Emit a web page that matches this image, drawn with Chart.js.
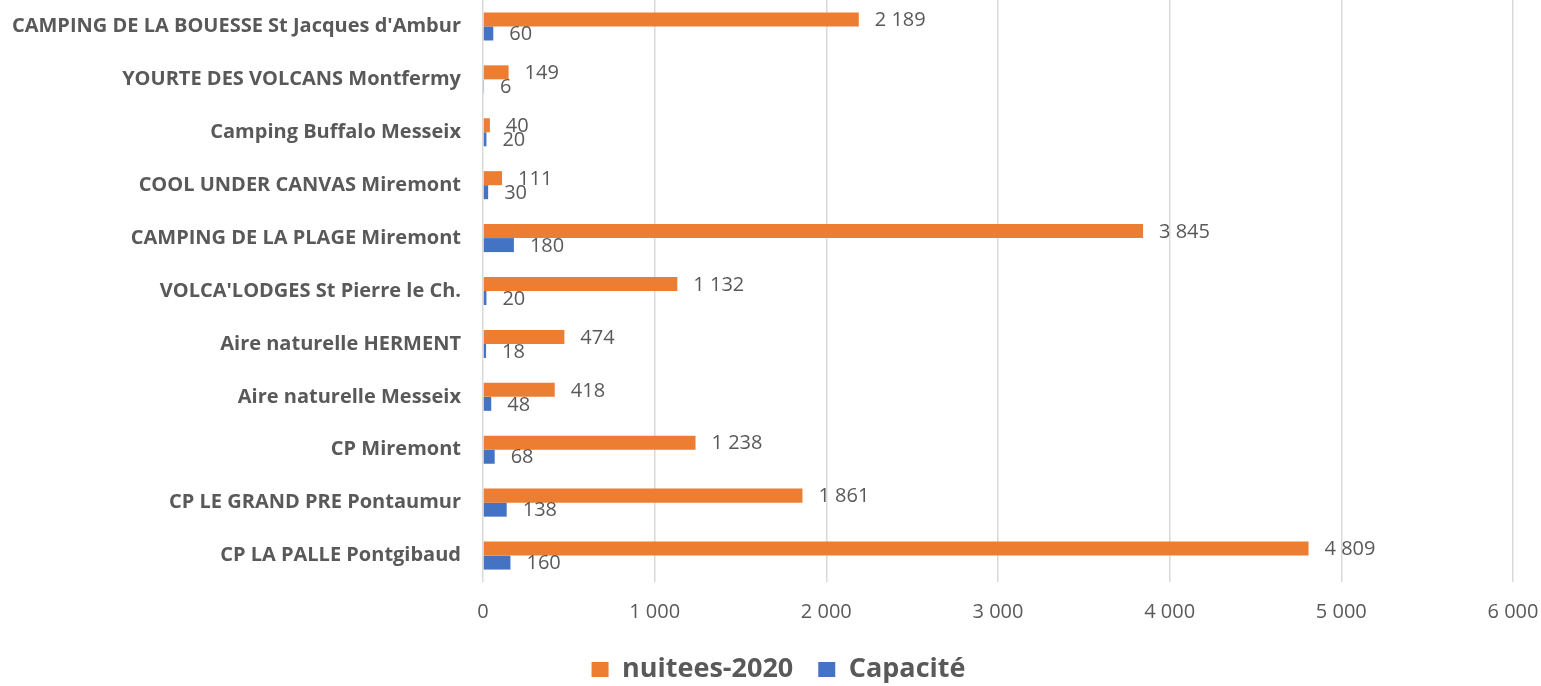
<!DOCTYPE html>
<html>
<head>
<meta charset="utf-8">
<script src="https://cdn.jsdelivr.net/npm/chart.js@4.4.1/dist/chart.umd.min.js"></script>
<style>
    html, body { margin: 0; padding: 0; background: #fff; overflow: hidden; }
    #wrap { width: 1541px; height: 686px; position: relative; }
    canvas { display: block; }
</style>
</head>
<body>
<div id="wrap"><canvas id="campingChart"></canvas></div>
<script>
// Catégories (de haut en bas)
const campings = [
    "CAMPING DE LA BOUESSE St Jacques d'Ambur",
    'YOURTE DES VOLCANS Montfermy',
    'Camping Buffalo Messeix',
    'COOL UNDER CANVAS Miremont',
    'CAMPING DE LA PLAGE Miremont',
    "VOLCA'LODGES St Pierre le Ch.",
    'Aire naturelle HERMENT',
    'Aire naturelle Messeix',
    'CP Miremont',
    'CP LE GRAND PRE Pontaumur',
    'CP LA PALLE Pontgibaud'
];
const nuitees2020 = [2189, 149, 40, 111, 3845, 1132, 474, 418, 1238, 1861, 4809];
const capacite = [60, 6, 20, 30, 180, 20, 18, 48, 68, 138, 160];
const xTicks = [0, 1000, 2000, 3000, 4000, 5000, 6000];

const orange = '#ED7D31';
const blue = '#4472C4';
const textColor = '#595959';
const gridColor = '#d9d9d9';
const fontFamily = "'Open Sans', 'Liberation Sans', sans-serif";

// séparateur de milliers façon Excel FR
function fmt(v) {
    return String(v).replace(/\B(?=(\d{3})+(?!\d))/g, ' ');
}

// étiquettes de valeur en bout de barre
const valueLabels = {
    id: 'valueLabels',
    afterDatasetsDraw(chart) {
        const ctx = chart.ctx;
        ctx.save();
        ctx.font = '20px ' + fontFamily;
        ctx.fillStyle = textColor;
        ctx.textAlign = 'left';
        ctx.textBaseline = 'middle';
        chart.data.datasets.forEach((ds, i) => {
            const meta = chart.getDatasetMeta(i);
            meta.data.forEach((bar, j) => {
                ctx.fillText(fmt(ds.data[j]), bar.x + 16, bar.y + 1);
            });
        });
        ctx.restore();
    }
};

// décale la légende un peu vers la droite (comme dans Excel)
const legendShift = {
    id: 'legendShift',
    afterLayout(chart) {
        if (!chart.legend) return;
        chart.legend.left += 22;
        chart.legend.right += 22;
    }
};

const ctx = document.getElementById('campingChart').getContext('2d');
new Chart(ctx, {
    type: 'bar',
    data: {
        labels: campings,
        datasets: [
            {
                label: 'nuitees-2020',
                data: nuitees2020,
                backgroundColor: orange,
                barPercentage: 1,
                categoryPercentage: 0.53
            },
            {
                label: 'Capacité',
                data: capacite,
                backgroundColor: blue,
                barPercentage: 1,
                categoryPercentage: 0.53
            }
        ]
    },
    options: {
        indexAxis: 'y',
        responsive: true,
        maintainAspectRatio: false,
        animation: false,
        layout: { padding: { left: 0, right: 28, top: 0, bottom: -7 } },
        plugins: {
            legend: {
                display: true,
                position: 'bottom',
                labels: {
                    color: textColor,
                    font: { family: fontFamily, size: 27, weight: 'bold' },
                    boxWidth: 17,
                    boxHeight: 15,
                    padding: 25
                }
            },
            tooltip: { enabled: false }
        },
        scales: {
            x: {
                min: 0,
                max: 6000,
                afterBuildTicks: (scale) => { scale.ticks = xTicks.map(v => ({ value: v })); },
                afterFit: (scale) => {
                    scale.height = 49;
                    scale.paddingLeft = 0;
                    scale.paddingRight = 0;
                },
                grid: { color: gridColor, lineWidth: 1.5, drawTicks: false },
                border: { display: false },
                ticks: {
                    color: textColor,
                    padding: 18,
                    font: { family: fontFamily, size: 20 },
                    callback: (v) => fmt(v)
                }
            },
            y: {
                afterFit: (scale) => {
                    scale.width = 483;
                    scale.paddingTop = 0;
                    scale.paddingBottom = 0;
                },
                grid: { display: false, drawTicks: false },
                border: { display: false },
                ticks: {
                    color: textColor,
                    padding: 22,
                    font: { family: fontFamily, size: 20, weight: 'bold' }
                }
            }
        }
    },
    plugins: [valueLabels, legendShift]
});
</script>
</body>
</html>
